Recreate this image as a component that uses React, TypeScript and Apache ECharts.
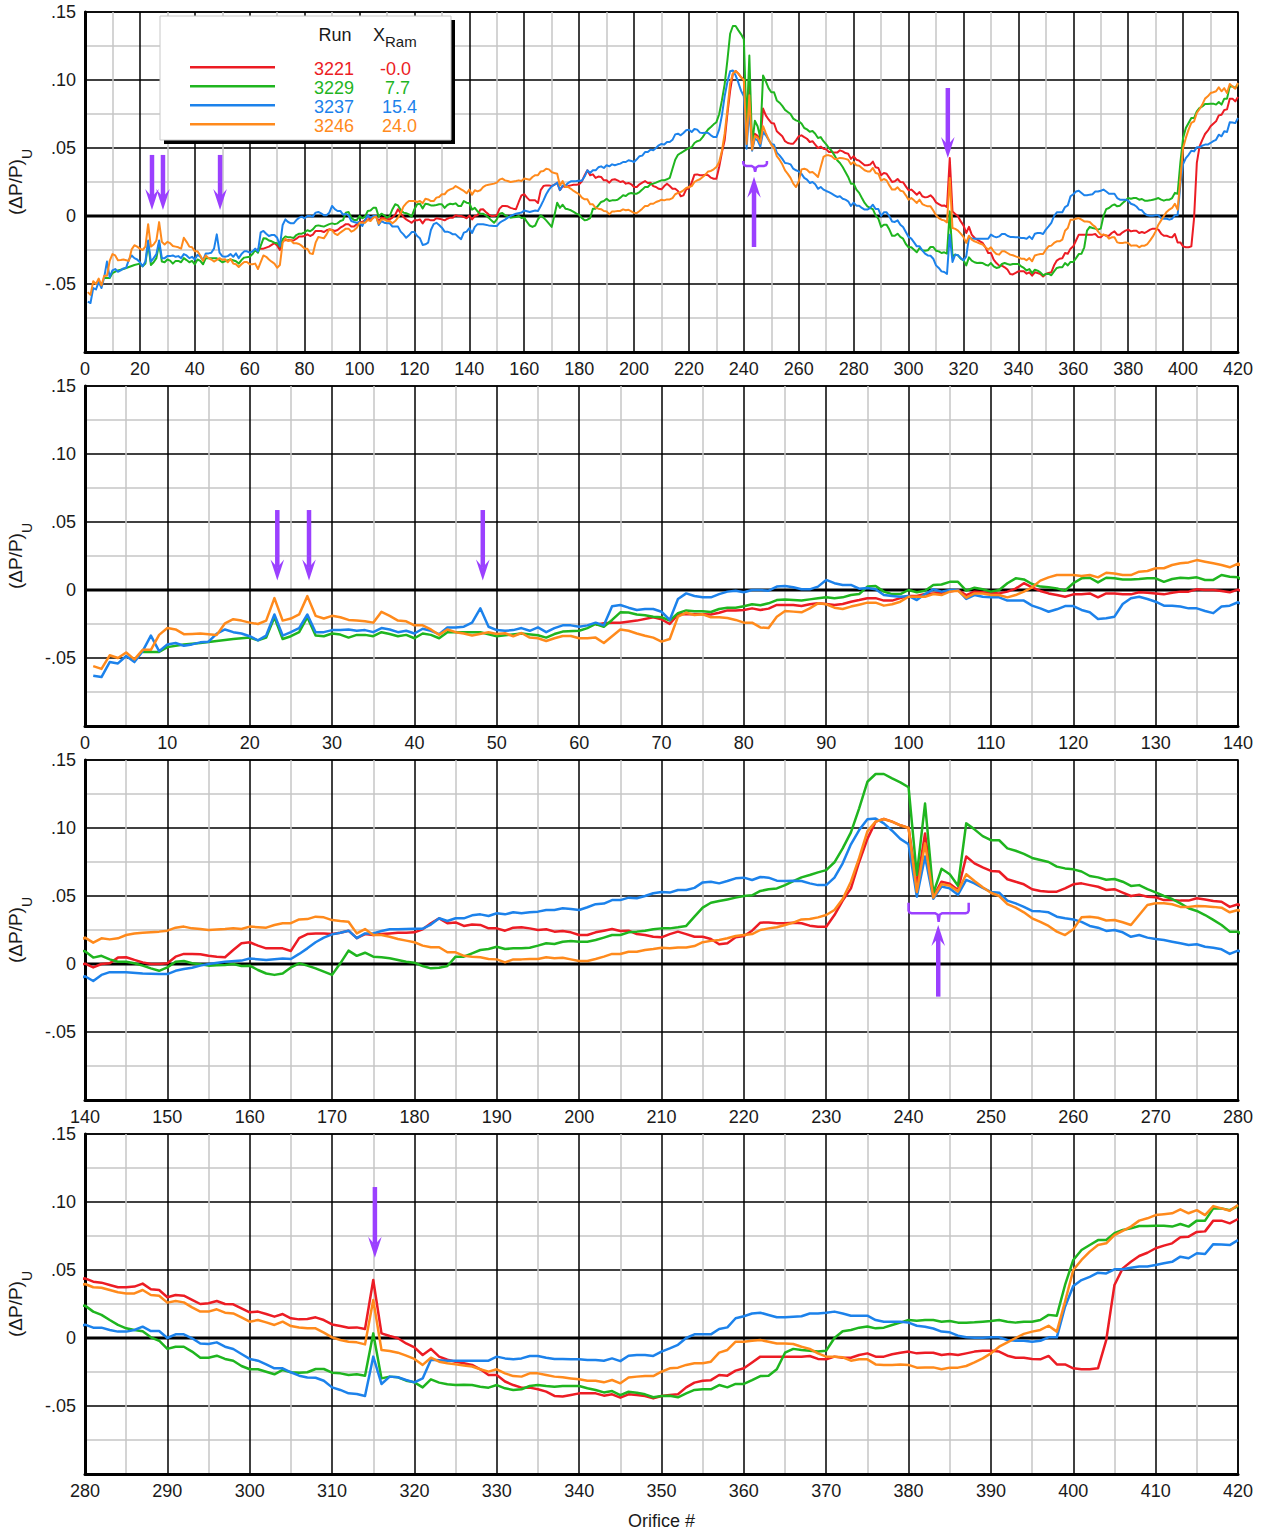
import React, { useEffect, useRef } from 'react';
import * as echarts from 'echarts';

// ---------- data (orifice #, (ΔP/P)U) ----------
const RUNS = ['3221', '3229', '3237', '3246'];
const XRAM = ['-0.0', '7.7', '15.4', '24.0'];
const COLORS = ['#ec1c24', '#1fb51f', '#1c82eb', '#ff8a1c'];

const run3221: [number, number][] = [
[62,-0.0255],[63,-0.0245],[64,-0.024],[65,-0.024],[67,-0.0225],[69,-0.020],[70,-0.0216],[71,-0.025],[72,-0.018],[73,-0.0176],[75,-0.0178],[76,-0.018],[77,-0.0167],[78,-0.015],[79,-0.015],[80,-0.0147],[81,-0.0135],[82,-0.0147],[83,-0.0137],[84,-0.011],[85,-0.011],[86,-0.011],[87,-0.0118],[88,-0.0105],[89,-0.0098],[90,-0.0103],[91,-0.011],[92,-0.0103],[93,-0.0086],[94,-0.0074],[95,-0.006],
[96,-0.006],[97,-0.0078],[98,-0.0078],[99,-0.006],[100,-0.0044],[101,-0.0044],[102,-0.003],[103,-0.0025],[104,-0.002],[105,-0.0012],[106,0],[107,-0.0037],[108,-0.0012],[109,-0.0017],[110,-0.002],[111,-0.0025],[112,-0.0012],[113,0.001],[114,0.005],[115,0.002],[116,-0.0007],[117,-0.0025],[118,-0.0037],[119,-0.005],[120,-0.0032],[121,-0.0032],[122,-0.0025],[123,-0.0054],[124,-0.0025],[125,-0.0025],[126,-0.0032],[127,-0.0032],[128,-0.0017],[129,-0.002],[130,-0.0025],[131,-0.0032],[132,-0.002],[133,-0.0012],[134,-0.0012],[135,0.0005],[136,0],[137,0],[138,-0.0007],[139,-0.0017],[140,0.0003],
[141,-0.0025],[142,0],[143,0.0005],[144,0.0047],[145,0.005],[146,0.003],[147,0.0012],[148,0],[149,0],[150,0.0005],[151,0.0054],[152,0.0074],[153,0.0074],[154,0.0071],[155,0.006],[156,0.0054],[157,0.005],[158,0.0103],[159,0.0152],[160,0.016],[161,0.0135],[162,0.0115],[163,0.0115],[164,0.0115],[165,0.0096],[166,0.019],[167,0.022],[168,0.0225],[169,0.0225],[170,0.022],[171,0.023],[172,0.0245],[173,0.019],[174,0.022],[175,0.0213],[176,0.022],[177,0.0225],[178,0.023],[179,0.023],[180,0.0233],[181,0.0255],[182,0.030],[183,0.0336],[184,0.030],[185,0.0306],[186,0.028],[187,0.029],[188,0.0287],[189,0.0262],[190,0.0262],[191,0.0245],[192,0.0267],[193,0.027],[194,0.0262],[195,0.025],[196,0.0255],[197,0.0238],[198,0.0243],[199,0.0233],[200,0.0213],[201,0.0213],[202,0.0233],[203,0.0245],[204,0.0257],[205,0.0243],[206,0.0245],[207,0.022],[208,0.0213],[209,0.020],[210,0.0196],[211,0.022],[212,0.0238],[213,0.022],[214,0.020],[215,0.020],[216,0.0184],[217,0.0145],[218,0.0152],[219,0.0196],[220,0.0206],[221,0.0245],[222,0.0304],[223,0.0306],[224,0.030],[225,0.030],[226,0.0304],[227,0.030],[228,0.0282],[229,0.0274],[230,0.0274],[231,0.036],[232,0.0466],[233,0.0556],[234,0.075],[235,0.092],[236,0.1047],[237,0.1066],[238,0.1047],[239,0.102],[240,0.100],[241,0.058],[242,0.096],[243,0.0495],[244,0.0605],[245,0.059],[246,0.0544],[247,0.079],[248,0.074],[249,0.071],[250,0.0684],[251,0.068],[252,0.0623],[253,0.0605],[254,0.0586],[255,0.055],[256,0.0537],[257,0.0532],[258,0.0532],[259,0.0556],[260,0.0586],[261,0.0593],[262,0.058],[263,0.0568],[264,0.0544],[265,0.055],[266,0.0525],[267,0.050],[268,0.051],[269,0.0495],[270,0.049],[271,0.047],[272,0.047],[273,0.0466],[274,0.0466],[275,0.0483],[276,0.0475],[277,0.0463],[278,0.0458],[279,0.042],[280,0.0439],
[281,0.0414],[282,0.0407],[283,0.039],[284,0.0373],[285,0.0373],[286,0.0378],[287,0.040],[288,0.0358],[289,0.0353],[290,0.030],[291,0.0316],[292,0.0311],[293,0.028],[294,0.025],[295,0.0255],[296,0.0272],[297,0.025],[298,0.0248],[299,0.0218],[300,0.0189],[301,0.0194],[302,0.0176],[303,0.0157],[304,0.0176],[305,0.0145],[306,0.0137],[307,0.014],[308,0.0152],[309,0.0132],[310,0.010],[311,0.0088],[312,0.0076],[313,0.0078],[314,0.0066],[315,0.0426],[316,0.0034],[317,0.0015],[318,-0.0002],[319,-0.004],[320,-0.0069],[321,-0.0125],[322,-0.008],[323,-0.0137],[324,-0.016],[325,-0.0174],[326,-0.0186],[327,-0.0198],[328,-0.023],[329,-0.0272],[330,-0.0272],[331,-0.032],[332,-0.0346],[333,-0.0365],[334,-0.0365],[335,-0.0377],[336,-0.0394],[337,-0.0426],[338,-0.043],[339,-0.0419],[340,-0.0407],[341,-0.0407],[342,-0.0407],[343,-0.0424],[344,-0.0414],[345,-0.0439],[346,-0.0414],[347,-0.0419],[348,-0.0426],[349,-0.0444],[350,-0.0426],[351,-0.0419],[352,-0.0414],[353,-0.0363],[354,-0.0328],[355,-0.0314],[356,-0.031],[357,-0.0272],[358,-0.0277],[359,-0.024],[360,-0.0223],[361,-0.018],[362,-0.0137],[363,-0.0137],[364,-0.0137],[365,-0.0137],[366,-0.0137],[367,-0.0137],[368,-0.0132],[369,-0.0154],[370,-0.0157],[371,-0.0137],[372,-0.0145],[373,-0.0145],[374,-0.0125],[375,-0.0113],[376,-0.0137],[377,-0.0137],[378,-0.012],[379,-0.0108],[380,-0.010],[381,-0.0113],[382,-0.0108],[383,-0.0108],[384,-0.0125],[385,-0.0118],[386,-0.0125],[387,-0.0113],[388,-0.010],[389,-0.0093],[390,-0.0093],[391,-0.010],[392,-0.013],[393,-0.0145],[394,-0.0145],[395,-0.0154],[396,-0.0157],[397,-0.0132],[398,-0.0194],[399,-0.0194],[400,-0.0223],[401,-0.023],[402,-0.023],[403,-0.0223],[404,-0.0015],[405,0.039],[406,0.0512],[407,0.056],[408,0.0603],[409,0.0627],[410,0.066],[411,0.0679],[412,0.0696],[413,0.074],[414,0.0745],[415,0.078],[416,0.0784],[417,0.0863],[418,0.0863],[419,0.0843],[420,0.0875]
];

const run3229: [number, number][] = [
[7,-0.0455],[9,-0.0455],[10,-0.042],[12,-0.040],[14,-0.039],[16,-0.0375],[18,-0.036],[20,-0.035],[21,-0.037],[22,-0.035],[23,-0.020],[24,-0.036],[25,-0.034],[26,-0.031],[27,-0.020],[28,-0.0335],[29,-0.034],[30,-0.032],[31,-0.0328],[32,-0.035],[33,-0.033],[34,-0.033],[35,-0.034],[36,-0.031],[37,-0.0324],[38,-0.034],[39,-0.033],[40,-0.0355],[41,-0.032],[42,-0.033],[43,-0.0355],[44,-0.031],[45,-0.031],[46,-0.031],[47,-0.031],[48,-0.0311],[50,-0.034],[51,-0.0333],[53,-0.032],[55,-0.0333],[56,-0.035],[57,-0.0324],[58,-0.0306],[60,-0.030],[61,-0.028],[62,-0.025],[63,-0.027],[64,-0.022],[65,-0.0164],[66,-0.0166],[67,-0.018],[68,-0.0186],[69,-0.0196],[70,-0.020],[71,-0.0225],[72,-0.017],[73,-0.015],[74,-0.0157],[75,-0.0157],[76,-0.0162],[77,-0.014],[78,-0.013],[79,-0.013],[80,-0.012],[81,-0.0105],[82,-0.0112],[83,-0.0098],[84,-0.0074],[85,-0.0069],[86,-0.0074],[87,-0.0078],[88,-0.0069],[89,-0.006],[90,-0.0054],[91,-0.006],[92,-0.0054],[93,-0.0037],[94,-0.003],[95,0.0025],[96,0.003],[97,-0.0012],[98,-0.003],[99,-0.003],[100,0],[101,-0.0017],[102,-0.0005],[103,0.0037],[104,0.004],[105,0.006],[106,0.006],[107,-0.0005],[108,0.0017],[109,0.0005],[110,-0.0012],[111,0],[112,0.005],[113,0.0086],[114,0.0078],[115,0.0044],[116,0.0025],[117,0.002],[118,0.0012],[119,-0.0005],[120,0.005],[121,0.0086],[122,0.009],[123,0.0056],[124,0.009],[125,0.0086],[126,0.0078],[127,0.0078],[128,0.0081],[129,0.0086],[130,0.0086],[131,0.006],[132,0.0081],[133,0.009],[134,0.0086],[135,0.0093],[136,0.0074],[137,0.0074],[138,0.011],[139,0.0098],[140,0.0094],
[141,0.0047],[142,0.006],[143,0.0034],[144,0.0017],[145,0.0017],[146,0.0005],[147,-0.0012],[148,-0.0032],[149,-0.005],[150,-0.0025],[151,0.0017],[152,0.0022],[153,0.0005],[154,-0.0002],[155,-0.0012],[156,-0.001],[157,-0.0007],[158,0],[159,-0.0015],[160,-0.0012],[161,-0.0044],[162,-0.007],[163,-0.008],[164,-0.007],[165,-0.0025],[166,0.0005],[167,-0.0012],[168,-0.0032],[169,-0.0056],[170,-0.008],[171,0.0005],[172,0.0098],[173,0.006],[174,0.0083],[175,0.0054],[176,0.0049],[177,0.0042],[178,0.003],[179,0.0017],[180,0.001],[181,-0.0015],[182,-0.0032],[183,-0.0027],[184,-0.0015],[185,0.0054],[186,0.0054],[187,0.0078],[188,0.0103],[189,0.011],[190,0.0127],[191,0.011],[192,0.0115],[193,0.0115],[194,0.012],[195,0.0135],[196,0.0152],[197,0.0147],[198,0.0164],[199,0.0169],[200,0.0164],[201,0.0164],[202,0.0176],[203,0.0194],[204,0.0213],[205,0.0213],[206,0.0233],[207,0.0238],[208,0.0245],[209,0.0255],[210,0.0262],[211,0.0262],[212,0.027],[213,0.028],[214,0.0348],[215,0.0414],[216,0.045],[217,0.0463],[218,0.0475],[219,0.0488],[220,0.050],[221,0.0505],[222,0.0537],[223,0.055],[224,0.0556],[225,0.058],[226,0.061],[227,0.0637],[228,0.0654],[229,0.0674],[230,0.069],[231,0.0748],[232,0.085],[233,0.0968],[234,0.1145],[235,0.134],[236,0.1397],[237,0.1397],[238,0.1365],[239,0.1336],[240,0.130],[241,0.0654],[242,0.118],[243,0.052],[244,0.070],[245,0.066],[246,0.0576],[247,0.1034],[248,0.099],[249,0.094],[250,0.091],[251,0.091],[252,0.085],[253,0.0833],[254,0.081],[255,0.078],[256,0.0765],[257,0.075],[258,0.0716],[259,0.0703],[260,0.0696],[261,0.068],[262,0.0647],[263,0.0637],[264,0.062],[265,0.0625],[266,0.0605],[267,0.0574],[268,0.058],[269,0.055],[270,0.0527],[271,0.050],[272,0.0478],[273,0.0446],[274,0.041],[275,0.039],[276,0.036],[277,0.0324],[278,0.0287],[279,0.0238],[280,0.0238],
[281,0.0194],[282,0.017],[283,0.0132],[284,0.0096],[285,0.0071],[286,0.0059],[287,0.005],[288,0.0005],[289,-0.002],[290,-0.008],[291,-0.0064],[292,-0.0064],[293,-0.010],[294,-0.0145],[295,-0.0145],[296,-0.013],[297,-0.0154],[298,-0.0167],[299,-0.0206],[300,-0.023],[301,-0.023],[302,-0.0248],[303,-0.0267],[304,-0.0235],[305,-0.0252],[306,-0.0255],[307,-0.0252],[308,-0.0228],[309,-0.0228],[310,-0.0255],[311,-0.026],[312,-0.0272],[313,-0.0267],[314,-0.0277],[315,0.0034],[316,-0.0297],[317,-0.0284],[318,-0.0289],[319,-0.0314],[320,-0.0326],[321,-0.0363],[322,-0.0304],[323,-0.0328],[324,-0.034],[325,-0.0346],[326,-0.0343],[327,-0.0346],[328,-0.0358],[329,-0.0365],[330,-0.0346],[331,-0.037],[332,-0.0382],[333,-0.0377],[334,-0.0353],[335,-0.0346],[336,-0.0353],[337,-0.0358],[338,-0.0353],[339,-0.0353],[340,-0.0353],[341,-0.037],[342,-0.0382],[343,-0.040],[344,-0.039],[345,-0.042],[346,-0.0395],[347,-0.0402],[348,-0.0414],[349,-0.0436],[350,-0.0426],[351,-0.0424],[352,-0.0436],[353,-0.0407],[354,-0.0382],[355,-0.0377],[356,-0.0377],[357,-0.0346],[358,-0.0363],[359,-0.0338],[360,-0.0338],[361,-0.031],[362,-0.028],[363,-0.0277],[364,-0.023],[365,-0.0108],[366,-0.008],[367,-0.0088],[368,-0.0093],[369,-0.010],[370,-0.0093],[371,0],[372,0.005],[373,0.0059],[374,0.0076],[375,0.0085],[376,0.0071],[377,0.0076],[378,0.0096],[379,0.0113],[380,0.0132],[381,0.0127],[382,0.0132],[383,0.0132],[384,0.012],[385,0.0125],[386,0.0113],[387,0.0113],[388,0.0115],[389,0.012],[390,0.0125],[391,0.0132],[392,0.012],[393,0.0113],[394,0.012],[395,0.012],[396,0.0132],[397,0.017],[398,0.0164],[399,0.039],[400,0.0574],[401,0.0647],[402,0.0684],[403,0.072],[404,0.072],[405,0.077],[406,0.0794],[407,0.0806],[408,0.0824],[409,0.0824],[410,0.0826],[411,0.0826],[412,0.0819],[413,0.0838],[414,0.0819],[415,0.0863],[416,0.0863],[417,0.0953],[418,0.0953],[419,0.094],[420,0.097]
];

const run3237: [number, number][] = [
[1,-0.063],[2,-0.064],[3,-0.053],[4,-0.054],[5,-0.0485],[6,-0.053],[7,-0.045],[8,-0.0335],[9,-0.045],[10,-0.040],[11,-0.039],[12,-0.041],[13,-0.040],[14,-0.0385],[15,-0.038],[16,-0.032],[17,-0.029],[18,-0.031],[19,-0.032],[20,-0.034],[21,-0.037],[22,-0.0335],[23,-0.018],[24,-0.0335],[25,-0.031],[26,-0.028],[27,-0.018],[28,-0.031],[29,-0.031],[30,-0.0295],[31,-0.0295],[32,-0.029],[33,-0.030],[34,-0.0295],[35,-0.031],[36,-0.028],[37,-0.029],[38,-0.031],[39,-0.030],[40,-0.032],[41,-0.0285],[42,-0.030],[43,-0.0325],[44,-0.0275],[45,-0.0275],[46,-0.027],[47,-0.024],[48,-0.0135],[49,-0.027],[50,-0.0295],[51,-0.030],[52,-0.0295],[53,-0.028],[54,-0.030],[55,-0.0275],[56,-0.031],[57,-0.028],[58,-0.026],[59,-0.026],[60,-0.027],[61,-0.026],[62,-0.024],[63,-0.026],[64,-0.012],[65,-0.011],[66,-0.013],[67,-0.0147],[68,-0.014],[69,-0.014],[70,-0.016],[71,-0.022],[72,-0.0066],[73,-0.0025],[74,-0.0044],[75,-0.0054],[76,-0.0054],[77,-0.003],[78,-0.0012],[79,-0.0005],[80,-0.0017],[81,0],[82,0],[83,-0.0005],[84,0.0025],[85,0.003],[86,0.002],[87,0.0005],[88,0.0005],[89,0.0025],[90,0.0074],[91,0.005],[92,0.0037],[93,0.0037],[94,0.001],[95,0.0015],[96,0.0005],[97,-0.0037],[98,-0.0044],[99,-0.005],[100,-0.0044],[101,-0.0074],[102,-0.003],[103,0.0005],[104,-0.0012],[105,0],[106,0],[107,-0.0066],[108,-0.0037],[109,-0.0049],[110,-0.0054],[111,-0.0054],[112,-0.0078],[113,-0.0078],[114,-0.0078],[115,-0.0115],[116,-0.0135],[117,-0.016],[118,-0.0142],[119,-0.0118],[120,-0.0118],[121,-0.0147],[122,-0.0164],[123,-0.0213],[124,-0.0208],[125,-0.0196],[126,-0.0103],[127,-0.006],[128,-0.005],[129,-0.0066],[130,-0.0086],[131,-0.0115],[132,-0.0115],[133,-0.0122],[134,-0.0135],[135,-0.0135],[136,-0.0154],[137,-0.017],[138,-0.0122],[139,-0.0115],[140,-0.009],
[141,-0.0125],[142,-0.008],[143,-0.006],[145,-0.006],[147,-0.0069],[149,-0.0074],[150,-0.0074],[151,-0.005],[152,-0.0037],[153,-0.0027],[154,-0.0012],[155,0],[157,0.0017],[159,0.0025],[160,0.004],[162,0.003],[164,0.004],[165,0.0037],[166,0.0074],[167,0.0115],[168,0.016],[169,0.0194],[170,0.0218],[171,0.023],[172,0.0245],[173,0.019],[174,0.0225],[175,0.0225],[176,0.0243],[177,0.0255],[178,0.0255],[179,0.0257],[180,0.026],[181,0.026],[182,0.029],[183,0.0336],[184,0.0316],[185,0.0336],[186,0.0336],[187,0.0358],[188,0.0365],[189,0.0353],[190,0.0373],[191,0.0365],[192,0.038],[193,0.0373],[194,0.038],[195,0.0385],[196,0.0397],[197,0.0397],[198,0.041],[199,0.0405],[200,0.0397],[201,0.0417],[202,0.044],[203,0.0444],[204,0.047],[205,0.047],[206,0.0488],[207,0.0483],[208,0.050],[209,0.052],[210,0.053],[211,0.0525],[212,0.0544],[213,0.0544],[214,0.056],[215,0.060],[216,0.0605],[217,0.0593],[218,0.061],[219,0.063],[220,0.0635],[221,0.0618],[222,0.064],[223,0.0635],[224,0.0613],[225,0.061],[226,0.0613],[227,0.061],[228,0.0593],[229,0.058],[230,0.058],[231,0.0635],[232,0.074],[233,0.088],[234,0.0985],[235,0.1064],[236,0.107],[237,0.1034],[238,0.098],[239,0.092],[240,0.088],[241,0.0495],[242,0.079],[243,0.048],[244,0.057],[245,0.0556],[246,0.051],[247,0.0618],[248,0.0593],[249,0.056],[250,0.053],[251,0.0524],[252,0.0466],[253,0.0446],[254,0.042],[255,0.039],[256,0.0387],[257,0.038],[258,0.0348],[259,0.0336],[260,0.0328],[261,0.031],[262,0.028],[263,0.0267],[264,0.0243],[265,0.025],[266,0.0233],[267,0.020],[268,0.0213],[269,0.0194],[270,0.0184],[271,0.0176],[272,0.0164],[273,0.0152],[274,0.014],[275,0.0145],[276,0.0127],[277,0.012],[278,0.0108],[279,0.0074],[280,0.0098],
[281,0.0076],[282,0.0076],[283,0.0059],[284,0.0047],[285,0.0047],[286,0.0059],[287,0.0083],[288,0.0051],[289,0.0051],[290,0],[291,0.0027],[292,0.0027],[293,-0.0002],[294,-0.004],[295,-0.0044],[296,-0.0032],[297,-0.0064],[298,-0.0081],[299,-0.0118],[300,-0.0154],[301,-0.0167],[302,-0.0194],[303,-0.0223],[304,-0.0223],[305,-0.0252],[306,-0.0277],[307,-0.029],[308,-0.0292],[309,-0.0314],[310,-0.0363],[311,-0.0382],[312,-0.0407],[313,-0.0412],[314,-0.0426],[315,-0.0137],[316,-0.0338],[317,-0.0284],[318,-0.0289],[319,-0.0309],[320,-0.0326],[321,-0.0297],[322,-0.016],[323,-0.0164],[324,-0.0167],[325,-0.0167],[326,-0.0167],[327,-0.0167],[328,-0.0167],[329,-0.0167],[330,-0.0137],[331,-0.015],[332,-0.0157],[333,-0.015],[334,-0.0132],[335,-0.0132],[336,-0.0145],[337,-0.0154],[338,-0.0154],[339,-0.0157],[340,-0.0157],[341,-0.0162],[342,-0.0162],[343,-0.0167],[344,-0.015],[345,-0.017],[346,-0.013],[347,-0.0125],[348,-0.0125],[349,-0.0132],[350,-0.010],[351,-0.0076],[352,-0.005],[353,0],[354,0.0027],[355,0.0027],[356,0.0027],[357,0.0066],[358,0.0078],[359,0.0145],[360,0.016],[361,0.018],[362,0.0186],[363,0.0169],[364,0.0152],[365,0.0152],[366,0.0157],[367,0.016],[368,0.018],[369,0.018],[370,0.0186],[371,0.0194],[372,0.018],[373,0.0164],[374,0.0164],[375,0.0164],[376,0.0132],[377,0.012],[378,0.012],[379,0.012],[380,0.0113],[381,0.009],[382,0.0083],[383,0.007],[384,0.0047],[385,0.0042],[386,0.0017],[387,0.0005],[388,0.0002],[389,0.0002],[390,0.0005],[391,0.0005],[392,-0.0015],[393,-0.002],[394,-0.002],[395,-0.0027],[396,-0.002],[397,0.0005],[398,0.0005],[399,0.023],[400,0.0382],[401,0.0426],[402,0.045],[403,0.048],[404,0.0475],[405,0.0505],[406,0.0505],[407,0.0517],[408,0.0525],[409,0.0525],[410,0.0537],[411,0.055],[412,0.056],[413,0.0598],[414,0.0586],[415,0.0623],[416,0.0618],[417,0.069],[418,0.0688],[419,0.0683],[420,0.072]
];

const run3246: [number, number][] = [
[1,-0.056],[2,-0.058],[3,-0.048],[4,-0.050],[5,-0.046],[6,-0.051],[7,-0.044],[8,-0.044],[9,-0.033],[10,-0.028],[11,-0.029],[12,-0.0325],[13,-0.0323],[14,-0.032],[15,-0.0325],[16,-0.033],[17,-0.0245],[18,-0.0215],[19,-0.0225],[20,-0.024],[21,-0.025],[22,-0.0225],[23,-0.006],[24,-0.0225],[25,-0.021],[26,-0.018],[27,-0.0045],[28,-0.019],[29,-0.021],[30,-0.019],[31,-0.020],[32,-0.022],[33,-0.0225],[34,-0.023],[35,-0.024],[36,-0.016],[37,-0.019],[38,-0.0225],[39,-0.023],[40,-0.026],[41,-0.026],[42,-0.029],[43,-0.033],[44,-0.029],[45,-0.031],[46,-0.032],[47,-0.0335],[49,-0.031],[50,-0.0323],[51,-0.0318],[52,-0.034],[53,-0.0316],[54,-0.035],[55,-0.0355],[56,-0.0375],[57,-0.0355],[58,-0.0338],[59,-0.0338],[60,-0.0355],[61,-0.0355],[62,-0.035],[63,-0.039],[64,-0.034],[65,-0.029],[66,-0.030],[67,-0.032],[68,-0.0336],[69,-0.035],[70,-0.038],[71,-0.036],[72,-0.0196],[73,-0.0167],[74,-0.0184],[75,-0.0179],[76,-0.020],[77,-0.020],[78,-0.0206],[79,-0.022],[80,-0.024],[81,-0.024],[82,-0.0275],[83,-0.028],[84,-0.0196],[85,-0.0154],[86,-0.0159],[87,-0.0164],[88,-0.0135],[89,-0.0098],[90,-0.0105],[91,-0.013],[92,-0.014],[93,-0.0122],[94,-0.0108],[95,-0.0093],[96,-0.0093],[97,-0.0115],[98,-0.0105],[99,-0.0086],[100,-0.005],[101,-0.005],[102,-0.005],[103,-0.003],[104,-0.0037],[105,-0.0012],[106,-0.0005],[107,-0.0056],[108,-0.0025],[109,-0.0025],[110,-0.0037],[111,-0.0037],[112,-0.0054],[113,-0.0037],[114,-0.0012],[115,0.002],[116,0.0069],[117,0.0093],[118,0.011],[119,0.011],[120,0.011],[121,0.0103],[122,0.011],[123,0.0093],[124,0.0127],[125,0.0122],[126,0.011],[127,0.011],[128,0.0135],[129,0.014],[130,0.016],[131,0.016],[132,0.0184],[133,0.0196],[134,0.0203],[135,0.022],[136,0.0208],[137,0.0196],[138,0.0184],[139,0.0167],[140,0.0194],
[141,0.0157],[142,0.0189],[143,0.0181],[144,0.0189],[145,0.0213],[146,0.0225],[147,0.023],[149,0.0238],[150,0.0245],[151,0.0267],[152,0.0275],[153,0.0262],[154,0.0257],[155,0.025],[157,0.0257],[158,0.0262],[159,0.0257],[160,0.0275],[162,0.0267],[163,0.0287],[164,0.030],[165,0.030],[166,0.0328],[167,0.033],[168,0.0348],[169,0.0343],[170,0.0323],[171,0.0316],[172,0.0311],[173,0.0225],[174,0.0257],[175,0.0213],[176,0.0213],[177,0.020],[178,0.0184],[179,0.0172],[180,0.016],[181,0.0135],[182,0.0123],[183,0.0123],[184,0.0086],[185,0.0086],[186,0.006],[187,0.0054],[188,0.005],[189,0.0037],[190,0.0034],[191,0.0012],[192,0.0034],[193,0.0034],[194,0.0037],[195,0.0037],[196,0.0049],[197,0.0042],[198,0.0046],[199,0.0034],[200,0.0022],[201,0.0022],[202,0.0037],[203,0.0054],[204,0.0074],[205,0.0074],[206,0.009],[207,0.009],[208,0.0103],[209,0.011],[210,0.012],[211,0.0115],[212,0.0122],[213,0.0122],[214,0.0132],[215,0.016],[216,0.017],[217,0.0176],[218,0.0189],[219,0.0206],[220,0.0213],[221,0.022],[222,0.025],[223,0.0262],[224,0.027],[225,0.0287],[226,0.0304],[227,0.0328],[228,0.0331],[229,0.0343],[230,0.036],[231,0.0397],[232,0.0478],[233,0.0605],[234,0.078],[235,0.0975],[236,0.1047],[237,0.1066],[238,0.1047],[239,0.102],[240,0.100],[241,0.053],[242,0.0887],[243,0.0488],[244,0.0588],[245,0.0576],[246,0.0534],[247,0.066],[248,0.061],[249,0.0564],[250,0.0524],[251,0.050],[252,0.044],[253,0.0414],[254,0.038],[255,0.0336],[256,0.031],[257,0.028],[258,0.0238],[259,0.0213],[260,0.0255],[261,0.0343],[262,0.0348],[263,0.034],[264,0.032],[265,0.0324],[266,0.0307],[267,0.0287],[268,0.036],[269,0.0434],[270,0.0446],[271,0.0446],[272,0.0439],[273,0.042],[274,0.042],[275,0.0427],[276,0.0424],[277,0.042],[278,0.0414],[279,0.038],[280,0.0397],
[281,0.0373],[282,0.037],[283,0.0353],[284,0.0336],[285,0.0328],[286,0.0328],[287,0.0353],[288,0.0316],[289,0.0311],[290,0.026],[291,0.0272],[292,0.0262],[293,0.0225],[294,0.0194],[295,0.0194],[296,0.0211],[297,0.0186],[298,0.0181],[299,0.0152],[300,0.012],[301,0.0132],[302,0.0115],[303,0.0096],[304,0.012],[305,0.0088],[306,0.0078],[307,0.0071],[308,0.0071],[309,0.004],[310,0.0005],[311,-0.0015],[312,-0.0027],[313,-0.0032],[314,-0.0047],[315,0.028],[316,-0.0088],[317,-0.0095],[318,-0.0108],[319,-0.013],[320,-0.0154],[321,-0.0198],[322,-0.0145],[323,-0.0174],[324,-0.0186],[325,-0.0194],[326,-0.0203],[327,-0.021],[328,-0.023],[329,-0.0247],[330,-0.023],[331,-0.026],[332,-0.028],[333,-0.0284],[334,-0.026],[335,-0.026],[336,-0.0272],[337,-0.0284],[338,-0.0289],[339,-0.0297],[340,-0.0304],[341,-0.0314],[342,-0.0314],[343,-0.0326],[344,-0.0309],[345,-0.0333],[346,-0.029],[347,-0.0284],[348,-0.028],[349,-0.028],[350,-0.0248],[351,-0.0223],[352,-0.0218],[353,-0.0198],[354,-0.0186],[355,-0.0186],[356,-0.0174],[357,-0.0108],[358,-0.0088],[359,-0.0027],[360,-0.0027],[361,-0.002],[362,-0.0015],[363,-0.0027],[364,-0.004],[365,-0.004],[366,-0.0044],[367,-0.0064],[368,-0.008],[369,-0.0113],[370,-0.0137],[371,-0.0137],[372,-0.0142],[373,-0.0167],[374,-0.0157],[375,-0.0157],[376,-0.0194],[377,-0.0198],[378,-0.0198],[379,-0.0194],[380,-0.0198],[381,-0.0218],[382,-0.0216],[383,-0.0216],[384,-0.023],[385,-0.0218],[386,-0.0218],[387,-0.0206],[388,-0.0179],[389,-0.015],[390,-0.0113],[391,-0.0064],[392,-0.0032],[393,0],[394,0.003],[395,0.0047],[396,0.0059],[397,0.009],[398,0.0047],[399,0.0267],[400,0.050],[401,0.0574],[402,0.0635],[403,0.0684],[404,0.0696],[405,0.0757],[406,0.0787],[407,0.0819],[408,0.0863],[409,0.088],[410,0.0904],[411,0.091],[412,0.0917],[413,0.0946],[414,0.0917],[415,0.094],[416,0.0904],[417,0.097],[418,0.0953],[419,0.0936],[420,0.0978]
];

const SERIES_DATA = [run3221, run3229, run3237, run3246];

// panels: x ranges and tick steps
const PANEL_X_MIN = [0, 0, 140, 280];
const PANEL_X_MAX = [420, 140, 280, 420];
const PANEL_X_STEP = [20, 10, 10, 10];
const Y_MIN = -0.1;
const Y_MAX = 0.15;
const Y_STEP = 0.05;

// annotations (data coordinates): arrows tail -> tip, braces
const ARROWS = [
  { grid: 0, x: 24.4, from: 0.0449, to: 0.0044 },
  { grid: 0, x: 28.4, from: 0.0449, to: 0.0044 },
  { grid: 0, x: 49.2, from: 0.0449, to: 0.0044 },
  { grid: 0, x: 314.3, from: 0.0941, to: 0.0426 },
  { grid: 0, x: 243.7, from: -0.0228, to: 0.0289 },
  { grid: 1, x: 23.35, from: 0.0588, to: 0.0069 },
  { grid: 1, x: 27.2, from: 0.0588, to: 0.0069 },
  { grid: 1, x: 48.3, from: 0.0588, to: 0.0069 },
  { grid: 2, x: 243.6, from: -0.024, to: 0.0287 },
  { grid: 3, x: 315.2, from: 0.111, to: 0.059 },
];
const BRACES = [
  { grid: 0, x0: 239.8, x1: 248.4, top: 0.0404, mid: 0.0368, tip: 0.0325 },
  { grid: 2, x0: 240.0, x1: 247.3, top: 0.0451, mid: 0.0373, tip: 0.031 },
];

const FONT = '"Liberation Sans", Arial, Helvetica, sans-serif';
const PURPLE = '#9b40ff';
const TEXT = '#1a1a1a';

const GRID_LEFT = 85;
const GRID_WIDTH = 1153;
const GRID_TOP0 = 12;
const GRID_STEP = 374;
const GRID_HEIGHT = 340;

function yLabel(v: number): string {
  const r = Math.round(v * 100);
  if (r === -10) return '';
  if (r === 0) return '0';
  const a = Math.abs(r);
  return (r < 0 ? '-' : '') + '.' + (a < 10 ? '0' + a : String(a));
}

export default function App() {
  const ref = useRef<HTMLDivElement>(null);
  useEffect(() => {
    if (!ref.current) return;
    const chart = echarts.init(ref.current, null, { renderer: 'svg' });
    const grids: any[] = [];
    const xAxes: any[] = [];
    const yAxes: any[] = [];
    const series: any[] = [];
    for (let g = 0; g < 4; g++) {
      grids.push({
        left: GRID_LEFT, width: GRID_WIDTH, top: GRID_TOP0 + GRID_STEP * g, height: GRID_HEIGHT,
        show: true, borderColor: '#000', borderWidth: 1.5, backgroundColor: '#fff',
        containLabel: false, outerBoundsMode: 'none',
      });
      xAxes.push({
        gridIndex: g, type: 'value', min: PANEL_X_MIN[g], max: PANEL_X_MAX[g], interval: PANEL_X_STEP[g],
        axisLine: { show: true, onZero: false, lineStyle: { color: '#000', width: 3 } },
        axisTick: { show: false },
        axisLabel: { show: true, fontSize: 18, color: TEXT, fontFamily: FONT, margin: 8, showMinLabel: true, showMaxLabel: true },
        splitLine: { show: true, lineStyle: { color: '#000', width: 1.5 } },
        minorTick: { show: false, splitNumber: 2 },
        minorSplitLine: { show: true, lineStyle: { color: '#c6c6c6', width: 1.5 } },
        ...(g === 3 ? { name: 'Orifice #', nameLocation: 'middle', nameGap: 38, nameTextStyle: { fontSize: 18, color: TEXT, fontFamily: FONT } } : {}),
      });
      yAxes.push({
        gridIndex: g, type: 'value', min: Y_MIN, max: Y_MAX, interval: Y_STEP,
        axisLine: { show: true, onZero: false, lineStyle: { color: '#000', width: 3 } },
        axisTick: { show: false },
        axisLabel: { show: true, fontSize: 18, color: TEXT, fontFamily: FONT, margin: 9, formatter: yLabel },
        splitLine: { show: true, lineStyle: { color: '#000', width: 1.5 } },
        minorTick: { show: false, splitNumber: 2 },
        minorSplitLine: { show: true, lineStyle: { color: '#c6c6c6', width: 1.5 } },
        name: '{a|(ΔP/P)}{s|U}', nameLocation: 'middle', nameGap: 42, nameRotate: 90,
        nameTextStyle: {
          color: TEXT, fontFamily: FONT, fontSize: 19,
          rich: {
            a: { fontSize: 19, fontFamily: FONT, color: TEXT, lineHeight: 26 },
            s: { fontSize: 14, fontFamily: FONT, color: TEXT, verticalAlign: 'bottom', lineHeight: 26, padding: [0, 0, -6, 0] },
          },
        },
      });
      series.push({
        type: 'line', name: 'zero' + g, xAxisIndex: g, yAxisIndex: g,
        data: [[PANEL_X_MIN[g], 0], [PANEL_X_MAX[g], 0]],
        showSymbol: false, silent: true, z: 2,
        lineStyle: { color: '#000', width: 3 },
      });
      SERIES_DATA.forEach((d, i) => {
        series.push({
          type: 'line', name: RUNS[i], xAxisIndex: g, yAxisIndex: g, data: d,
          showSymbol: false, clip: true, z: 3 + i,
          lineStyle: { color: COLORS[i], width: g === 0 ? 2 : 2.5, join: 'round' },
          itemStyle: { color: COLORS[i] },
        });
      });
    }
    chart.setOption({
      animation: false,
      backgroundColor: '#fff',
      grid: grids, xAxis: xAxes, yAxis: yAxes, series,
    });

    const els: any[] = [];
    // legend box
    els.push({ type: 'rect', shape: { x: 164, y: 20, width: 291, height: 124 }, style: { fill: '#000' }, z: 50 });
    els.push({ type: 'rect', shape: { x: 160, y: 16, width: 291, height: 124 }, style: { fill: '#fff', stroke: '#c8c8c8', lineWidth: 1 }, z: 51 });
    els.push({ type: 'text', x: 335, y: 35, style: { text: 'Run', fontSize: 18, fontFamily: FONT, fill: TEXT, align: 'center', verticalAlign: 'middle' }, z: 52 });
    els.push({ type: 'text', x: 373, y: 35, style: { text: 'X', fontSize: 18, fontFamily: FONT, fill: TEXT, align: 'left', verticalAlign: 'middle' }, z: 52 });
    els.push({ type: 'text', x: 385, y: 41, style: { text: 'Ram', fontSize: 15, fontFamily: FONT, fill: TEXT, align: 'left', verticalAlign: 'middle' }, z: 52 });
    const valueLeft = [380, 385, 382, 382];
    RUNS.forEach((r, i) => {
      const y = 67.3 + 19 * i;
      els.push({ type: 'line', shape: { x1: 190, y1: y, x2: 275, y2: y }, style: { stroke: COLORS[i], lineWidth: 2.5 }, z: 52 });
      els.push({ type: 'text', x: 314, y: y + 1.2, style: { text: r, fontSize: 18, fontFamily: FONT, fill: COLORS[i], align: 'left', verticalAlign: 'middle' }, z: 52 });
      els.push({ type: 'text', x: valueLeft[i], y: y + 1.2, style: { text: XRAM[i], fontSize: 18, fontFamily: FONT, fill: COLORS[i], align: 'left', verticalAlign: 'middle' }, z: 52 });
    });
    // arrows
    ARROWS.forEach((a) => {
      const t = chart.convertToPixel({ gridIndex: a.grid } as any, [a.x, a.from]) as number[];
      const p = chart.convertToPixel({ gridIndex: a.grid } as any, [a.x, a.to]) as number[];
      const x = p[0];
      const d = p[1] > t[1] ? 1 : -1;
      els.push({ type: 'line', shape: { x1: x, y1: t[1], x2: x, y2: p[1] - d * 13 }, style: { stroke: PURPLE, lineWidth: 4.5 }, z: 40 });
      els.push({
        type: 'polygon',
        shape: { points: [[x, p[1]], [x - 6.8, p[1] - d * 21], [x, p[1] - d * 13], [x + 6.8, p[1] - d * 21]] },
        style: { fill: PURPLE }, z: 40,
      });
    });
    // braces
    BRACES.forEach((b) => {
      const a0 = chart.convertToPixel({ gridIndex: b.grid } as any, [b.x0, b.top]) as number[];
      const a1 = chart.convertToPixel({ gridIndex: b.grid } as any, [b.x1, b.mid]) as number[];
      const tp = chart.convertToPixel({ gridIndex: b.grid } as any, [(b.x0 + b.x1) / 2, b.tip]) as number[];
      const X0 = a0[0], X1 = a1[0], Yt = a0[1], Ym = a1[1], Xm = tp[0], Yp = tp[1];
      els.push({
        type: 'polyline',
        shape: { points: [[X0, Yt], [X0, Ym - 2.5], [X0 + 1, Ym - 0.7], [X0 + 3, Ym], [Xm - 3.5, Ym], [Xm - 1, Ym + 1.5], [Xm, Yp], [Xm + 1, Ym + 1.5], [Xm + 3.5, Ym], [X1 - 3, Ym], [X1 - 1, Ym - 0.7], [X1, Ym - 2.5], [X1, Yt]] },
        style: { stroke: PURPLE, lineWidth: 2.5, fill: 'none' }, z: 40,
      });
    });
    chart.setOption({ graphic: { elements: els } });
    return () => chart.dispose();
  }, []);
  return <div ref={ref} style={{ position: 'absolute', left: 0, top: 0, width: 1267, height: 1533 }} />;
}
